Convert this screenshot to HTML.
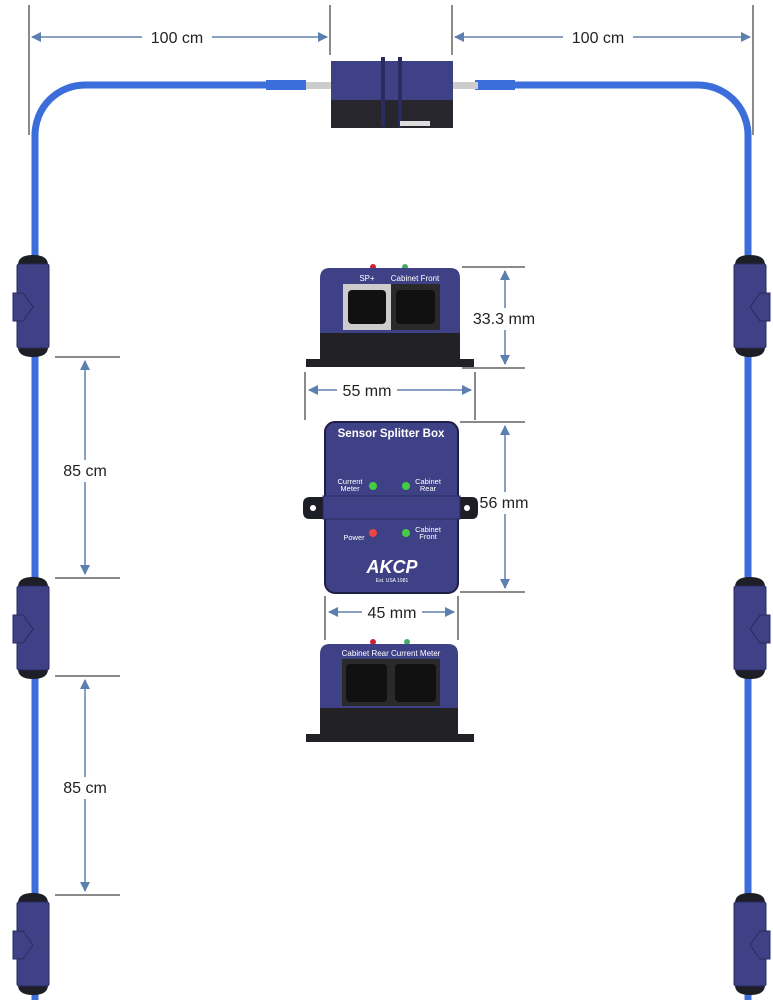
<!DOCTYPE html>
<html><head><meta charset="utf-8"><style>
html,body{margin:0;padding:0;background:#fff;}
svg{display:block;}
text{font-family:"Liberation Sans",sans-serif;}
</style></head><body>
<svg width="773" height="1000" viewBox="0 0 773 1000" xmlns="http://www.w3.org/2000/svg">
<defs>
<marker id="a" viewBox="0 0 10 10" refX="9" refY="5" markerWidth="5" markerHeight="5" orient="auto-start-reverse"><path d="M0,0L10,5L0,10z" fill="#5b7fae"/></marker>
<g id="modL">
<path d="M-15,10 Q-15,0 0,0 Q15,0 15,10 L15,92 Q15,102 0,102 Q-15,102 -15,92Z" fill="#1e1e26"/>
<rect x="-16" y="9" width="32" height="84" rx="2" fill="#3f4186" stroke="#2a2b5e"/>
<path d="M-20,38 L-10,38 L0,52 L-10,66 L-20,66Z" fill="#3f4186" stroke="#2a2b5e"/>
</g>
</defs>
<!-- cables -->
<path d="M270,85 L86,85 A50,50 0 0 0 35,135 L35,1000" fill="none" stroke="#3b6edb" stroke-width="7"/>
<path d="M495,85 L697,85 A50,50 0 0 1 748,135 L748,1000" fill="none" stroke="#3b6edb" stroke-width="7"/>
<!-- connectors top -->
<rect x="266" y="80" width="40" height="10" fill="#3b6edb"/>
<rect x="306" y="82" width="26" height="7" fill="#ccc"/>
<rect x="475" y="80" width="40" height="10" fill="#3b6edb"/>
<rect x="452" y="82" width="26" height="7" fill="#ccc"/>
<!-- top splitter -->
<rect x="331" y="61" width="122" height="40" fill="#3f4186"/>
<rect x="331" y="100" width="122" height="28" fill="#26262c"/>
<rect x="381" y="57" width="4" height="70" fill="#2a2b5e"/>
<rect x="398" y="57" width="4" height="70" fill="#2a2b5e"/>
<rect x="400" y="121" width="30" height="5" fill="#ddd"/>
<!-- modules -->
<use href="#modL" x="33" y="255"/>
<use href="#modL" x="33" y="577"/>
<use href="#modL" x="33" y="893"/>
<use href="#modL" transform="translate(750,255) scale(-1,1)"/>
<use href="#modL" transform="translate(750,577) scale(-1,1)"/>
<use href="#modL" transform="translate(750,893) scale(-1,1)"/>
<!-- dims grey lines -->
<g stroke="#8a8a8a" stroke-width="2">
<line x1="29" y1="5" x2="29" y2="135"/><line x1="330" y1="5" x2="330" y2="55"/>
<line x1="452" y1="5" x2="452" y2="55"/><line x1="753" y1="5" x2="753" y2="135"/>
<line x1="55" y1="357" x2="120" y2="357"/><line x1="55" y1="578" x2="120" y2="578"/>
<line x1="55" y1="676" x2="120" y2="676"/><line x1="55" y1="895" x2="120" y2="895"/>
<line x1="462" y1="267" x2="525" y2="267"/><line x1="462" y1="368" x2="525" y2="368"/>
<line x1="305" y1="372" x2="305" y2="420"/><line x1="475" y1="372" x2="475" y2="420"/>
<line x1="460" y1="422" x2="525" y2="422"/><line x1="460" y1="592" x2="525" y2="592"/>
<line x1="325" y1="596" x2="325" y2="640"/><line x1="458" y1="596" x2="458" y2="640"/>
</g>
<g stroke="#8aa0c0" stroke-width="2" marker-start="url(#a)" marker-end="url(#a)" fill="none">
<line x1="32" y1="37" x2="327" y2="37"/>
<line x1="455" y1="37" x2="750" y2="37"/>
<line x1="85" y1="361" x2="85" y2="574"/>
<line x1="85" y1="680" x2="85" y2="891"/>
<line x1="505" y1="271" x2="505" y2="364"/>
<line x1="309" y1="390" x2="471" y2="390"/>
<line x1="505" y1="426" x2="505" y2="588"/>
<line x1="329" y1="612" x2="454" y2="612"/>
</g>
<g font-size="16" fill="#222" text-anchor="middle">
<rect x="142" y="27" width="70" height="20" fill="#fff"/><text x="177" y="43">100 cm</text>
<rect x="563" y="27" width="70" height="20" fill="#fff"/><text x="598" y="43">100 cm</text>
<rect x="52" y="460" width="66" height="22" fill="#fff"/><text x="85" y="476">85 cm</text>
<rect x="52" y="777" width="66" height="22" fill="#fff"/><text x="85" y="793">85 cm</text>
<rect x="470" y="308" width="70" height="22" fill="#fff"/><text x="504" y="324">33.3 mm</text>
<rect x="337" y="380" width="60" height="20" fill="#fff"/><text x="367" y="396">55 mm</text>
<rect x="475" y="492" width="60" height="22" fill="#fff"/><text x="504" y="508">56 mm</text>
<rect x="362" y="602" width="60" height="20" fill="#fff"/><text x="392" y="618">45 mm</text>
</g>
<!-- box 1 -->
<circle cx="373" cy="267" r="3" fill="#c23"/><circle cx="405" cy="267" r="3" fill="#4a6"/>
<path d="M320,278 Q320,268 330,268 L450,268 Q460,268 460,278 L460,335 L320,335Z" fill="#3f4186"/>
<rect x="320" y="333" width="140" height="27" fill="#222226"/>
<rect x="306" y="359" width="168" height="8" fill="#222226"/>
<rect x="343" y="284" width="48" height="46" fill="#ccc"/>
<rect x="391" y="284" width="49" height="46" fill="#2a2a2a"/>
<rect x="348" y="290" width="38" height="34" rx="4" fill="#111"/>
<rect x="396" y="290" width="39" height="34" rx="4" fill="#111"/>
<text x="367" y="281" font-size="8" fill="#fff" text-anchor="middle">SP+</text>
<text x="415" y="281" font-size="8" fill="#fff" text-anchor="middle">Cabinet Front</text>
<!-- box 2 -->
<rect x="325" y="422" width="133" height="171" rx="10" fill="#3f4186" stroke="#1e1f44" stroke-width="2"/>
<path d="M310,497 L472,497 Q478,497 478,504 L478,512 Q478,519 472,519 L310,519 Q303,519 303,512 L303,504 Q303,497 310,497Z" fill="#1e1e26"/>
<rect x="323" y="496" width="137" height="23" fill="#3f4186" stroke="#2a2b5e"/>
<circle cx="313" cy="508" r="3" fill="#fff"/><circle cx="467" cy="508" r="3" fill="#fff"/>
<text x="391" y="437" font-size="11.5" font-weight="bold" fill="#fff" text-anchor="middle">Sensor Splitter Box</text>
<g font-size="7.5" fill="#fff" text-anchor="middle">
<text x="350" y="484">Current</text><text x="350" y="491">Meter</text>
<text x="428" y="484">Cabinet</text><text x="428" y="491">Rear</text>
<text x="354" y="540">Power</text>
<text x="428" y="532">Cabinet</text><text x="428" y="539">Front</text>
</g>
<circle cx="373" cy="486" r="4" fill="#4c4"/><circle cx="406" cy="486" r="4" fill="#4c4"/>
<circle cx="373" cy="533" r="4" fill="#e44"/><circle cx="406" cy="533" r="4" fill="#4c4"/>
<text x="392" y="573" font-size="18" font-weight="bold" font-style="italic" fill="#fff" text-anchor="middle">AKCP</text>
<text x="392" y="582" font-size="5" fill="#fff" text-anchor="middle">Est. USA 1981</text>
<!-- box 3 -->
<circle cx="373" cy="642" r="3" fill="#c23"/><circle cx="407" cy="642" r="3" fill="#4a6"/>
<path d="M320,654 Q320,644 330,644 L448,644 Q458,644 458,654 L458,710 L320,710Z" fill="#3f4186"/>
<rect x="320" y="708" width="138" height="28" fill="#222226"/>
<rect x="306" y="734" width="168" height="8" fill="#222226"/>
<rect x="342" y="659" width="49" height="47" fill="#2a2a2a"/>
<rect x="391" y="659" width="49" height="47" fill="#2a2a2a"/>
<rect x="346" y="664" width="41" height="38" rx="4" fill="#111"/>
<rect x="395" y="664" width="41" height="38" rx="4" fill="#111"/>
<text x="391" y="656" font-size="8" fill="#fff" text-anchor="middle">Cabinet Rear Current Meter</text>
</svg>
</body></html>
